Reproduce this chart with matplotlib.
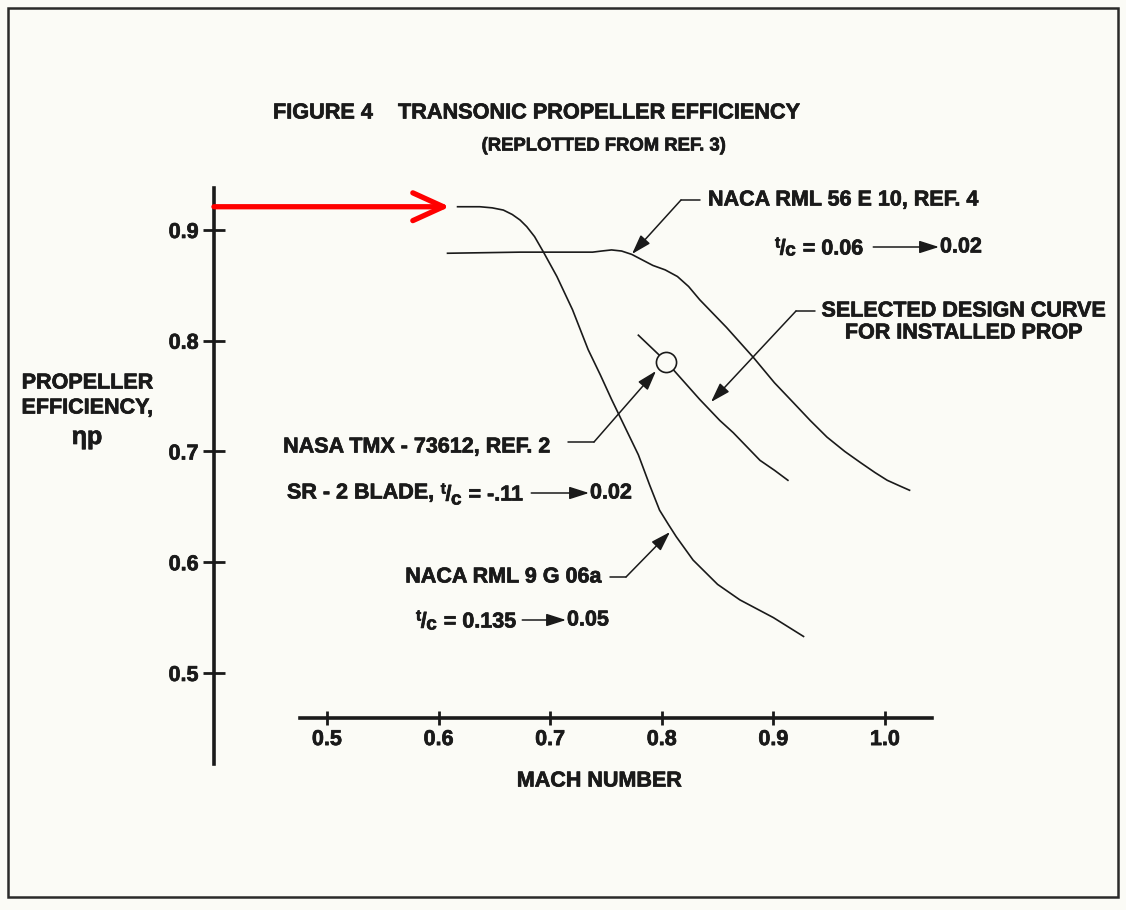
import matplotlib
matplotlib.use('Agg')
import matplotlib.pyplot as plt
import matplotlib.patheffects as pe
from matplotlib.patches import Rectangle

# ---------------- data ----------------
mach_rml9g06a = [0.617, 0.637, 0.648, 0.658, 0.666, 0.673, 0.679, 0.686, 0.694, 0.706, 0.720,
                 0.734, 0.745, 0.755, 0.767, 0.779, 0.789, 0.798, 0.806, 0.813, 0.828, 0.850,
                 0.870, 0.900, 0.927]
eff_rml9g06a = [0.921, 0.921, 0.920, 0.918, 0.914, 0.909, 0.903, 0.894, 0.880, 0.858, 0.828,
                0.792, 0.769, 0.747, 0.722, 0.697, 0.670, 0.647, 0.634, 0.623, 0.602, 0.580,
                0.566, 0.550, 0.533]

mach_rml56e10 = [0.608, 0.673, 0.738, 0.746, 0.755, 0.764, 0.773, 0.792, 0.803, 0.814, 0.824,
                 0.834, 0.858, 0.882, 0.901, 0.918, 0.933, 0.948, 0.964, 0.978, 0.991, 1.002,
                 1.013, 1.022]
eff_rml56e10 = [0.879, 0.880, 0.880, 0.881, 0.882, 0.881, 0.878, 0.868, 0.864, 0.858, 0.849,
                0.837, 0.812, 0.785, 0.762, 0.744, 0.728, 0.713, 0.700, 0.690, 0.681, 0.674,
                0.669, 0.665]

mach_design = [0.779, 0.804, 0.834, 0.852, 0.864, 0.888, 0.901, 0.913]
eff_design = [0.805, 0.781, 0.747, 0.728, 0.717, 0.692, 0.683, 0.674]

tmx_mach = [0.804]
tmx_eff = [0.781]

x_ticks = [0.5, 0.6, 0.7, 0.8, 0.9, 1.0]
x_tick_labels = ['0.5', '0.6', '0.7', '0.8', '0.9', '1.0']
y_ticks = [0.5, 0.6, 0.7, 0.8, 0.9]
y_tick_labels = ['0.5', '0.6', '0.7', '0.8', '0.9']

# ---------------- style ----------------
plt.rcParams['font.family'] = ['Liberation Sans', 'DejaVu Sans']
plt.rcParams['font.weight'] = 'bold'

BG = '#fbfbf6'
INK = '#1a1a1a'
FS = 15.5
W, H = 1126, 910
THICK = [pe.withStroke(linewidth=0.5, foreground=INK)]

fig = plt.figure(figsize=(W / 100, H / 100), dpi=100, facecolor=BG)
ax = fig.add_axes([0, 0, 1, 1])
ax.set_facecolor('none')
ax.set_xlim(0.20699, 1.21595)
ax.set_ylim(0.28600, 1.10767)

# axes (detached spines)
for s in ['top', 'right']:
    ax.spines[s].set_visible(False)
ax.spines['left'].set_position(('data', 0.3987))
ax.spines['left'].set_bounds(0.4178, 0.9379)
ax.spines['bottom'].set_position(('data', 0.4594))
ax.spines['bottom'].set_bounds(0.4758, 1.0421)
for s in ['left', 'bottom']:
    ax.spines[s].set_linewidth(2.6)
    ax.spines[s].set_color(INK)

ax.set_xticks(x_ticks, x_tick_labels)
ax.set_yticks(y_ticks, y_tick_labels)
ax.tick_params(axis='y', direction='inout', length=16, width=2.0, pad=3.0,
               labelsize=FS, colors=INK)
ax.tick_params(axis='x', direction='inout', length=10, width=2.0, pad=3.0,
               labelsize=FS, colors=INK)
for lab in ax.get_xticklabels() + ax.get_yticklabels():
    lab.set_path_effects(THICK)

# curves
ax.plot(mach_rml9g06a, eff_rml9g06a, color=INK, lw=1.2, zorder=3)
ax.plot(mach_rml56e10, eff_rml56e10, color=INK, lw=1.2, zorder=3)
ax.plot(mach_design, eff_design, color=INK, lw=1.2, zorder=3)
ax.plot(tmx_mach, tmx_eff, 'o', ms=14.5, mfc=BG, mec=INK, mew=1.2, zorder=4)

# red arrow pointing to peak of steep curve
ax.annotate('', xy=(mach_rml9g06a[0] - 0.007, eff_rml9g06a[0]),
            xytext=(0.3987, eff_rml9g06a[0]),
            arrowprops=dict(arrowstyle='->,head_length=2.2,head_width=1.0',
                            color='#ff0000', lw=3.8, shrinkA=0, shrinkB=0,
                            mutation_scale=10), zorder=5)

renderer = fig.canvas.get_renderer()


def ftxt(x, y, s, ha='left', size=FS, va='center', **kw):
    t = fig.text(x / W, 1 - y / H, s, ha=ha, va=va, fontsize=size,
                 fontweight='bold', color=INK, path_effects=THICK, **kw)
    return t


def fline(p0, p1, head=False, lw=1.1):
    style = '-|>,head_length=1.0,head_width=0.32' if head else '-'
    ax.annotate('', xy=(p1[0], H - p1[1]), xycoords='figure pixels',
                xytext=(p0[0], H - p0[1]), textcoords='figure pixels',
                arrowprops=dict(arrowstyle=style, color=INK, lw=lw,
                                shrinkA=0, shrinkB=0, mutation_scale=12))


def tc_expr(x, yc, rest, sub=2):
    """draw  t/c <rest>  starting at x, centred on yc; return right edge."""
    base = yc + 7.5
    t1 = ftxt(x, base - 7, 't', size=FS * 0.72, va='baseline')
    x1 = x + t1.get_window_extent(renderer).width - 0.5
    t2 = ftxt(x1, base, '/', size=FS, va='baseline')
    x2 = x1 + t2.get_window_extent(renderer).width - 0.5
    t3 = ftxt(x2, base + sub, 'c', size=FS * 0.88, va='baseline')
    x3 = x2 + t3.get_window_extent(renderer).width + 7
    t4 = ftxt(x3, base, rest, size=FS, va='baseline')
    return x3 + t4.get_window_extent(renderer).width


# titles
ftxt(273, 113, 'FIGURE 4', size=15.6)
ftxt(398, 113, 'TRANSONIC PROPELLER EFFICIENCY', size=15.6)
ftxt(604, 146, '(REPLOTTED FROM REF. 3)', ha='center', size=13.3)

# axis labels
ftxt(87, 383, 'PROPELLER', ha='center')
ftxt(87, 408, 'EFFICIENCY,', ha='center')
ftxt(87, 437, 'ηp', ha='center', size=18)
ftxt(599, 781, 'MACH NUMBER', ha='center')

# NACA RML 56 E 10
ftxt(708, 200, 'NACA RML 56 E 10, REF. 4')
fline((700, 200), (681, 200))
fline((681, 200), (632, 254), head=True)
xe = tc_expr(775, 247, '= 0.06', sub=1)
fline((xe + 10, 247), (939, 247), head=True)
ftxt(940, 247, '0.02')

# Selected design curve
ftxt(963, 311, 'SELECTED DESIGN CURVE', ha='center')
ftxt(963, 333, 'FOR INSTALLED PROP', ha='center')
fline((815, 311), (796, 311))
fline((796, 311), (711, 402), head=True)

# NASA TMX
ftxt(550, 447, 'NASA TMX - 73612, REF. 2', ha='right')
fline((568, 442), (594, 442))
fline((594, 442), (656, 371), head=True)
t = ftxt(287, 493, 'SR - 2 BLADE,')
xs = 287 + t.get_window_extent(renderer).width + 7
xe = tc_expr(xs, 493, '= -.11', sub=4)
fline((xe + 8, 493), (589, 493), head=True)
ftxt(590, 493, '0.02')

# NACA RML 9 G 06a
ftxt(601, 577, 'NACA RML 9 G 06a', ha='right')
fline((610, 577), (626, 577))
fline((626, 577), (670, 532), head=True)
xe = tc_expr(416, 620, '= 0.135', sub=2)
fline((xe + 6, 620), (566, 620), head=True)
ftxt(567, 620, '0.05')

# page border
fig.patches.append(Rectangle((8 / W, 1 - 897 / H), (1118 - 8) / W, (897 - 8) / H,
                             transform=fig.transFigure, fill=False,
                             edgecolor='#2a2a2a', lw=1.8))

fig.savefig('out.png', dpi=100, facecolor=BG)
